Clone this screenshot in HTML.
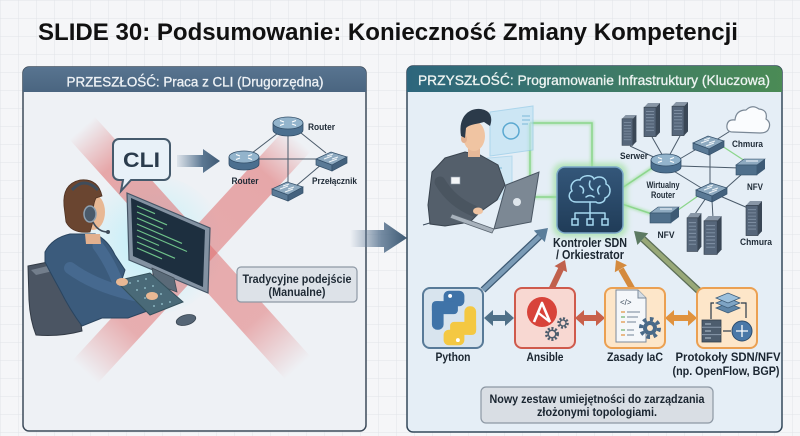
<!DOCTYPE html>
<html><head><meta charset="utf-8"><style>
html,body{margin:0;padding:0;width:800px;height:436px;overflow:hidden;background:#f5f6f8}
svg{display:block}
text{font-family:"Liberation Sans",Arial,sans-serif}
</style></head><body>
<svg width="800" height="436" viewBox="0 0 800 436" xmlns="http://www.w3.org/2000/svg">
<defs>
<pattern id="grid" width="18" height="18" patternUnits="userSpaceOnUse"><path d="M18 0H0V18" fill="none" stroke="#e1e4e8" stroke-width="1"/></pattern>
<linearGradient id="hdrR" x1="0" x2="1" y1="0" y2="0"><stop offset="0" stop-color="#2d667d"/><stop offset="1" stop-color="#4b8b55"/></linearGradient>
<linearGradient id="hdrL" x1="0" x2="0" y1="0" y2="1"><stop offset="0" stop-color="#587490"/><stop offset="1" stop-color="#4a6580"/></linearGradient>
<linearGradient id="bigArrow" x1="350" x2="407" y1="0" y2="0" gradientUnits="userSpaceOnUse"><stop offset="0" stop-color="#6a84a0" stop-opacity="0"/><stop offset="0.55" stop-color="#5d7893" stop-opacity="0.85"/><stop offset="1" stop-color="#3d5872"/></linearGradient>
<linearGradient id="cliArrow" x1="176" x2="220" y1="0" y2="0" gradientUnits="userSpaceOnUse"><stop offset="0" stop-color="#6b86a0" stop-opacity="0.1"/><stop offset="0.6" stop-color="#5b7792"/><stop offset="1" stop-color="#3f5a74"/></linearGradient>
<linearGradient id="band1" gradientUnits="userSpaceOnUse" x1="82" y1="128" x2="298" y2="368"><stop offset="0" stop-color="#e06a6a" stop-opacity="0"/><stop offset="0.15" stop-color="#e06a6a" stop-opacity="0.55"/><stop offset="0.8" stop-color="#e06a6a" stop-opacity="0.5"/><stop offset="1" stop-color="#e06a6a" stop-opacity="0"/></linearGradient>
<linearGradient id="band2" gradientUnits="userSpaceOnUse" x1="298" y1="140" x2="85" y2="372"><stop offset="0" stop-color="#e06a6a" stop-opacity="0"/><stop offset="0.15" stop-color="#e06a6a" stop-opacity="0.55"/><stop offset="0.8" stop-color="#e06a6a" stop-opacity="0.5"/><stop offset="1" stop-color="#e06a6a" stop-opacity="0"/></linearGradient>
<radialGradient id="glowL" cx="150" cy="245" r="75" gradientUnits="userSpaceOnUse"><stop offset="0" stop-color="#b8f0fa" stop-opacity="0.9"/><stop offset="1" stop-color="#b8f0fa" stop-opacity="0"/></radialGradient>
<linearGradient id="ctrl" x1="0" y1="0" x2="0" y2="1"><stop offset="0" stop-color="#34577a"/><stop offset="1" stop-color="#203c58"/></linearGradient>
<filter id="blur3" x="-50%" y="-50%" width="200%" height="200%"><feGaussianBlur stdDeviation="3"/></filter>
<filter id="blur1" x="-50%" y="-50%" width="200%" height="200%"><feGaussianBlur stdDeviation="1.2"/></filter>
<g id="rtr"><path d="M-15,0 v7 a15,6 0 0 0 30,0 v-7 z" fill="#4b6f8f" stroke="#34506a" stroke-width="0.8"/><ellipse rx="15" ry="6" fill="#93b4cc" stroke="#34506a" stroke-width="0.8"/><path d="M-8,-2.5 l4,1.5 M8,-2.5 l-4,1.5 M-8,2.5 l4,-1.5 M8,2.5 l-4,-1.5" stroke="#fff" stroke-width="1.2"/></g>
<g id="sw"><path d="M-15,-1 L0,-8 L16,-3 L1,5 Z" fill="#8eaac0" stroke="#34506a" stroke-width="0.7"/><path d="M-15,-1 L1,5 L1,11 L-15,5 Z" fill="#5a7a96" stroke="#34506a" stroke-width="0.7"/><path d="M1,5 L16,-3 L16,3 L1,11 Z" fill="#44627e" stroke="#34506a" stroke-width="0.7"/><path d="M-7,-1 l8,-3 M-2,2 l8,-3 M-4,-4 l6,-2 M1,-1 l6,-2" stroke="#eef4f8" stroke-width="1"/></g>
<g id="srv"><path d="M0,4 L4,0 L16,0 L12,4 Z" fill="#8896a6"/><rect x="0" y="4" width="12" height="28" fill="#56667a" stroke="#333f4c" stroke-width="0.6"/><path d="M12,4 L16,0 L16,28 L12,32 Z" fill="#3a4756"/><path d="M2,8h8M2,11h8M2,14h8M2,17h8M2,20h8M2,23h8M2,26h8" stroke="#8192a6" stroke-width="0.8"/></g>
<g id="nfv"><path d="M-14,-3 L-6,-9 L15,-9 L7,-3 Z" fill="#8eaac0" stroke="#34506a" stroke-width="0.6"/><rect x="-14" y="-3" width="21" height="10" fill="#4f6f8b" stroke="#34506a" stroke-width="0.6"/><path d="M7,-3 L15,-9 L15,1 L7,7 Z" fill="#3d5a75"/><path d="M-4,-7 h12" stroke="#e6eef5" stroke-width="1.2"/></g>
</defs>

<rect width="800" height="436" fill="#f5f6f8"/>
<rect width="800" height="436" fill="url(#grid)"/>

<text x="38" y="40" font-size="24" font-weight="bold" fill="#111" textLength="700" lengthAdjust="spacingAndGlyphs">SLIDE 30: Podsumowanie: Konieczność Zmiany Kompetencji</text>

<!-- LEFT PANEL -->
<rect x="23" y="67" width="343" height="364" rx="6" fill="#eef1f5" stroke="#3d4b5a" stroke-width="1.5"/>
<path d="M23,92 V73 a6,6 0 0 1 6,-6 H360 a6,6 0 0 1 6,6 V92 Z" fill="url(#hdrL)"/>
<text x="195" y="86.5" font-size="14" fill="#eef2f6" stroke="#eef2f6" stroke-width="0.3" text-anchor="middle" textLength="257" lengthAdjust="spacingAndGlyphs">PRZESZŁOŚĆ: Praca z CLI (Drugorzędna)</text>

<!-- glow + red X -->
<ellipse cx="150" cy="245" rx="75" ry="70" fill="url(#glowL)"/>
<polygon points="94.6,116.6 310.6,356.6 285.4,379.4 69.4,139.4" fill="url(#band1)"/>
<polygon points="285.7,128.3 72.7,360.3 97.3,383.7 310.3,151.7" fill="url(#band2)"/>

<!-- left network -->
<g stroke="#4a5a6a" stroke-width="1">
<line x1="252" y1="153" x2="282" y2="130"/>
<line x1="259" y1="159" x2="318" y2="159"/>
<line x1="296" y1="129" x2="326" y2="153"/>
<line x1="288" y1="131" x2="288" y2="183"/>
<line x1="296" y1="186" x2="322" y2="164"/>
</g>
<use href="#rtr" x="288" y="123"/>
<use href="#rtr" x="244" y="157"/>
<use href="#sw" x="331" y="160"/>
<use href="#sw" x="287" y="190"/>
<g font-size="9" font-weight="bold" fill="#1e2a36">
<text x="308" y="130" textLength="27" lengthAdjust="spacingAndGlyphs">Router</text>
<text x="245" y="184" text-anchor="middle" textLength="27" lengthAdjust="spacingAndGlyphs">Router</text>
<text x="312" y="184" textLength="45" lengthAdjust="spacingAndGlyphs">Przełącznik</text>
</g>

<!-- CLI bubble + arrow -->
<path d="M119,139 H164 a6,6 0 0 1 6,6 V174 a6,6 0 0 1 -6,6 H131 L121,191 L123,180 H119 a6,6 0 0 1 -6,-6 V145 a6,6 0 0 1 6,-6 Z" fill="#e8f1f8" stroke="#455a6c" stroke-width="2"/>
<text x="123" y="167" font-size="21" font-weight="bold" fill="#2a3b4c" textLength="37" lengthAdjust="spacingAndGlyphs">CLI</text>
<path d="M177,155 H203 V149 L220,161 L203,173 V167 H177 Z" fill="url(#cliArrow)"/>

<!-- left person -->
<path d="M28,266 L63,259 Q71,261 73,272 L82,331 Q60,337 36,335 Q30,320 29,300 Z" fill="#4b5563" stroke="#333b46" stroke-width="1"/>
<path d="M31,270 L60,263 L66,268 L36,275 Z" fill="#737e8c"/>
<path d="M45,252 Q52,238 70,234 L95,234 Q108,240 115,255 L125,270 L118,292 L140,300 L150,310 L128,318 L102,318 L82,326 Q70,310 60,290 Q50,272 45,262 Z" fill="#3b5b7c" stroke="#2a4560" stroke-width="1"/>
<path d="M98,246 Q110,262 118,283" stroke="#46698f" stroke-width="11" fill="none" stroke-linecap="round"/>
<path d="M70,268 Q100,290 150,298" stroke="#46698f" stroke-width="12" fill="none" stroke-linecap="round"/>
<path d="M85,234 L100,234 L101,244 L86,244 Z" fill="#e2b08e"/>
<ellipse cx="93" cy="212" rx="12" ry="18" fill="#e8b894"/>
<path d="M64,206 Q62,184 80,180 Q98,178 102,196 L96,198 Q92,206 94,218 L90,232 Q72,234 66,222 Z" fill="#6a4530" stroke="#4e3222" stroke-width="0.8"/>
<path d="M72,190 Q84,176 98,190" stroke="#3f4c5a" stroke-width="3" fill="none"/>
<ellipse cx="90" cy="214" rx="6" ry="8" fill="#4a5a6a" stroke="#8ea0b0" stroke-width="1.5"/>
<path d="M93,222 Q98,232 108,232" stroke="#3f4c5a" stroke-width="1.6" fill="none"/>
<circle cx="108" cy="232" r="2" fill="#3f4c5a"/>
<!-- monitor -->
<polygon points="127,193 210,228 208,293 129,260" fill="#8392a2" stroke="#445566" stroke-width="1.2"/>
<polygon points="131,198 205,230 203,287 133,256" fill="#1d2f3f"/>
<g stroke="#6fc28a" stroke-width="1.2">
<line x1="137" y1="206" x2="155" y2="213.7"/>
<line x1="137" y1="212" x2="167" y2="224.9"/>
<line x1="137" y1="218" x2="163" y2="229.2"/>
<line x1="137" y1="224" x2="182" y2="243.4"/>
<line x1="137" y1="230" x2="187" y2="251.5"/>
<line x1="137" y1="236" x2="159" y2="245.5"/>
<line x1="137" y1="242" x2="175" y2="258.3"/>
<line x1="137" y1="248" x2="162" y2="258.8"/>
</g>
<polygon points="152,268 174,278 177,292 155,284" fill="#5a6a78" stroke="#3e4a56" stroke-width="0.8"/>
<!-- keyboard -->
<polygon points="116,281 150,273 183,302 150,315" fill="#4a6a78" stroke="#34505c" stroke-width="1"/>
<g fill="#8ab4c0">
<circle cx="130" cy="283" r="1"/><circle cx="138" cy="281" r="1"/><circle cx="146" cy="279" r="1"/>
<circle cx="137" cy="290" r="1"/><circle cx="145" cy="288" r="1"/><circle cx="153" cy="286" r="1"/>
<circle cx="145" cy="298" r="1"/><circle cx="153" cy="296" r="1"/><circle cx="161" cy="294" r="1"/>
<circle cx="154" cy="306" r="1"/><circle cx="162" cy="304" r="1"/><circle cx="170" cy="302" r="1"/>
</g>
<ellipse cx="122" cy="282" rx="6" ry="4" fill="#e8b894"/>
<ellipse cx="152" cy="296" rx="6" ry="4" fill="#e8b894"/>
<ellipse cx="186" cy="320" rx="10" ry="5" transform="rotate(-15 186 320)" fill="#556575" stroke="#3a4652" stroke-width="0.8"/>

<!-- Tradycyjne box -->
<rect x="237" y="267" width="120" height="35" rx="4" fill="#dde2e8" stroke="#8e99a5" stroke-width="1.2"/>
<text x="297" y="283" font-size="12" font-weight="bold" fill="#1f2a35" text-anchor="middle" textLength="109" lengthAdjust="spacingAndGlyphs">Tradycyjne podejście</text>
<text x="297" y="296" font-size="12" font-weight="bold" fill="#1f2a35" text-anchor="middle" textLength="57" lengthAdjust="spacingAndGlyphs">(Manualne)</text>

<!-- big arrow -->
<path d="M350,230 H384 V222 L407,238 L384,253 V247 H350 Z" fill="url(#bigArrow)"/>

<!-- RIGHT PANEL -->
<rect x="407" y="66" width="375" height="366" rx="6" fill="#e5eef6" stroke="#34485a" stroke-width="1.5"/>
<path d="M407,92 V72 a6,6 0 0 1 6,-6 H776 a6,6 0 0 1 6,6 V92 Z" fill="url(#hdrR)"/>
<text x="594" y="85" font-size="14" fill="#eef4f2" stroke="#eef4f2" stroke-width="0.3" text-anchor="middle" textLength="352" lengthAdjust="spacingAndGlyphs">PRZYSZŁOŚĆ: Programowanie Infrastruktury (Kluczowa)</text>

<!-- green links -->
<g stroke="#9fe09f" stroke-width="4" fill="none" opacity="0.6" filter="url(#blur1)">
<path d="M530,123 H592 V167"/><path d="M530,123 V197 H557"/>
<path d="M622,188 L655,166"/><path d="M622,204 L652,214"/>
</g>
<g stroke="#8cd68c" stroke-width="1.5" fill="none">
<path d="M530,123 H592 V167"/><path d="M530,123 V197 H557"/>
<path d="M622,188 L655,166"/><path d="M622,204 L652,214"/>
</g>

<!-- right network lines -->
<g stroke="#4a5a6a" stroke-width="1" fill="none">
<line x1="660" y1="160" x2="630" y2="146"/>
<line x1="664" y1="158" x2="652" y2="137"/>
<line x1="668" y1="158" x2="680" y2="136"/>
<line x1="678" y1="160" x2="700" y2="147"/>
<line x1="680" y1="166" x2="740" y2="168"/>
<line x1="672" y1="170" x2="703" y2="189"/>
<line x1="716" y1="140" x2="735" y2="128"/>
<line x1="710" y1="150" x2="710" y2="186"/>
<line x1="724" y1="190" x2="742" y2="174"/>
<line x1="706" y1="198" x2="695" y2="214"/>
<line x1="712" y1="200" x2="713" y2="218"/>
<line x1="720" y1="196" x2="748" y2="208"/>
</g>
<g stroke="#8cd68c" stroke-width="1.3"><line x1="722" y1="146" x2="745" y2="161"/><line x1="698" y1="196" x2="678" y2="210"/></g>
<use href="#srv" transform="translate(622,115) scale(0.9,0.95)"/>
<use href="#srv" transform="translate(644,103) scale(1,1.05)"/>
<use href="#srv" transform="translate(672,102) scale(1,1.05)"/>
<use href="#srv" transform="translate(746,201) scale(1,1.08)"/>
<path d="M733,132 Q726,132 727,125 Q728,119 735,120 Q736,110 746,110 Q752,104 759,109 Q768,110 766,119 Q772,123 768,130 Q766,133 760,133 Z" fill="#fafcfe" stroke="#7a8896" stroke-width="1.2"/>
<use href="#rtr" x="666" y="160"/>
<use href="#sw" x="708" y="144"/>
<use href="#sw" x="711" y="191"/>
<use href="#nfv" x="750" y="168"/>
<use href="#nfv" x="664" y="216"/>
<use href="#srv" transform="translate(687,213) scale(0.9,1.2)"/>
<use href="#srv" transform="translate(704,216) scale(1.1,1.2)"/>
<g font-size="9.5" font-weight="bold" fill="#1e2a36">
<text x="620" y="159" textLength="28" lengthAdjust="spacingAndGlyphs">Serwer</text>
<text x="732" y="147" textLength="31" lengthAdjust="spacingAndGlyphs">Chmura</text>
<text x="663" y="188" text-anchor="middle" textLength="33" lengthAdjust="spacingAndGlyphs">Wirtualny</text>
<text x="663" y="198" text-anchor="middle" textLength="24" lengthAdjust="spacingAndGlyphs">Router</text>
<text x="755" y="190" text-anchor="middle" textLength="16" lengthAdjust="spacingAndGlyphs">NFV</text>
<text x="666" y="238" text-anchor="middle" textLength="17" lengthAdjust="spacingAndGlyphs">NFV</text>
<text x="756" y="245" text-anchor="middle" textLength="32" lengthAdjust="spacingAndGlyphs">Chmura</text>
</g>

<!-- right person -->
<polygon points="490,112 533,106 533,150 490,156" fill="#bfe2f4" opacity="0.65" stroke="#8ec8e6" stroke-width="1"/>
<circle cx="511" cy="131" r="8" fill="none" stroke="#5aa8d0" stroke-width="1.5"/>
<path d="M522,116 h8 M522,120 h8 M522,124 h6" stroke="#7ab8d8" stroke-width="1"/>
<polygon points="466,160 512,156 512,198 466,202" fill="#bfe2f4" opacity="0.55" stroke="#8ec8e6" stroke-width="1"/>
<path d="M472,168 h30 M472,174 h24 M472,180 h28" stroke="#7ab8d8" stroke-width="1"/>
<line x1="423" y1="225" x2="470" y2="211" stroke="#3a4a5a" stroke-width="1"/>
<polygon points="428,205 432,172 445,158 465,152 480,155 498,165 505,185 497,200 480,212 470,222 445,226 430,224" fill="#545f6b" stroke="#3a444f" stroke-width="1"/>
<path d="M440,182 Q452,202 474,211" stroke="#4a5560" stroke-width="11" fill="none" stroke-linecap="round"/>
<rect x="451" y="177" width="9" height="7" fill="#f4f6f8" stroke="#8a96a2" stroke-width="0.6"/>
<rect x="468" y="146" width="12" height="11" fill="#e6b898"/>
<ellipse cx="474" cy="136" rx="11" ry="15" fill="#f0c4a2"/>
<ellipse cx="464" cy="139" rx="3" ry="4" fill="#e2b090"/>
<path d="M461,136 C458,118 468,108 480,109 C491,110 493,118 490,126 L484,122 C478,124 470,124 466,128 L465,138 Z" fill="#2b3a4a"/>
<ellipse cx="478" cy="211" rx="5" ry="3.5" fill="#f0c4a2"/>
<polygon points="506,185 539,172 531,222 494,229" fill="#7c8894" stroke="#4a5663" stroke-width="1"/>
<circle cx="517" cy="202" r="4" fill="#dfe6ec"/>
<polygon points="452,214 494,229 492,233 450,218" fill="#a8b2bc" stroke="#5a6570" stroke-width="0.8"/>

<!-- controller -->
<rect x="553" y="163" width="74" height="74" rx="10" fill="#9fe09f" opacity="0.7" filter="url(#blur3)"/>
<rect x="557" y="167" width="66" height="66" rx="8" fill="url(#ctrl)" stroke="#7aa6c8" stroke-width="1.5"/>
<g stroke="#a5d8f0" stroke-width="1.5" fill="none" stroke-linecap="round">
<path d="M576,202 C569,202 567,194 572,191 C569,185 574,179 580,180 C582,175 592,174 594,179 C598,175 607,177 606,184 C612,187 611,196 605,198 C605,203 598,204 596,202 Z"/>
<path d="M580,186 q5,2 3,7 M590,181 q-2,6 3,9 M600,186 q-4,3 -1,8 M586,197 q4,-3 8,0"/>
<path d="M590,202 V213 M575,213 H605 M575,213 V219 M590,213 V219 M605,213 V219"/>
<rect x="572" y="219" width="6" height="6"/><rect x="587" y="219" width="6" height="6"/><rect x="602" y="219" width="6" height="6"/>
</g>
<text x="590" y="247" font-size="13" font-weight="bold" fill="#1a2530" text-anchor="middle" textLength="74" lengthAdjust="spacingAndGlyphs">Kontroler SDN</text>
<text x="590" y="259" font-size="13" font-weight="bold" fill="#1a2530" text-anchor="middle" textLength="68" lengthAdjust="spacingAndGlyphs">/ Orkiestrator</text>

<!-- arrows to controller -->
<g stroke-linecap="butt">
<line x1="483" y1="290" x2="540" y2="236" stroke="#3e5a74" stroke-width="7"/>
<line x1="483" y1="290" x2="540" y2="236" stroke="#7b9bb6" stroke-width="4.5"/>
<polygon points="548,228 544.8,242.1 533.8,230.5" fill="#5a7d9a"/>
<line x1="551" y1="290" x2="561" y2="269" stroke="#c0604c" stroke-width="6"/>
<polygon points="565,260 567.1,272.1 554.5,266.1" fill="#c0604c"/>
<line x1="633" y1="290" x2="621" y2="269" stroke="#d48a3e" stroke-width="6"/>
<polygon points="616,260 627,265.3 614.8,272.2" fill="#d48a3e"/>
<line x1="700" y1="292" x2="643" y2="239" stroke="#5c6e58" stroke-width="7"/>
<line x1="700" y1="292" x2="643" y2="239" stroke="#98a878" stroke-width="4.5"/>
<polygon points="634,231 648.2,233.2 637.4,245" fill="#5c7a62"/>
</g>

<!-- double arrows -->
<polygon points="484,318 493,310 493,315 505,315 505,310 514,318 505,326 505,321 493,321 493,326" fill="#4f7088"/>
<polygon points="575,318 584,310 584,315 596,315 596,310 605,318 596,326 596,321 584,321 584,326" fill="#c8604a"/>
<polygon points="665,318 674,310 674,315 688,315 688,310 697,318 688,326 688,321 674,321 674,326" fill="#e0923e"/>

<!-- boxes -->
<rect x="423" y="288" width="60" height="60" rx="7" fill="#d8e4ee" stroke="#587a98" stroke-width="2"/>
<rect x="515" y="288" width="60" height="60" rx="7" fill="#f8d8d2" stroke="#cf5a4c" stroke-width="2"/>
<rect x="605" y="288" width="60" height="60" rx="7" fill="#fde6c9" stroke="#eba052" stroke-width="2"/>
<rect x="697" y="288" width="60" height="60" rx="7" fill="#fde6c9" stroke="#eba052" stroke-width="2"/>

<!-- python logo -->
<g transform="translate(454,318) scale(1.3) translate(-453,-318)">
<rect x="445" y="297" width="16" height="12" rx="4" fill="#3f73a8"/>
<rect x="436" y="305" width="20" height="10" rx="3" fill="#3f73a8"/>
<rect x="436" y="305" width="9" height="22" rx="4" fill="#3f73a8"/>
<rect x="445" y="327" width="16" height="12" rx="4" fill="#f4c842"/>
<rect x="450" y="321" width="20" height="10" rx="3" fill="#f4c842"/>
<rect x="461" y="309" width="9" height="22" rx="4" fill="#f4c842"/>
<circle cx="450" cy="301" r="1.5" fill="#fff"/>
<circle cx="456" cy="335" r="1.5" fill="#fff"/>
</g>

<!-- ansible -->
<circle cx="542" cy="312" r="15" fill="#d8433a"/>
<polyline points="534,322 542,303 550,322" fill="none" stroke="#fff" stroke-width="2.6" stroke-linejoin="round"/>
<line x1="538.5" y1="313" x2="550" y2="322" stroke="#fff" stroke-width="2.2"/>
<circle cx="552" cy="334" r="5.5" fill="none" stroke="#4d5d6d" stroke-width="3" stroke-dasharray="2 1.6"/>
<circle cx="552" cy="334" r="3.8" fill="none" stroke="#4d5d6d" stroke-width="1.5"/>
<circle cx="563" cy="323" r="4.5" fill="none" stroke="#4d5d6d" stroke-width="2.6" stroke-dasharray="2 1.5"/>
<circle cx="563" cy="323" r="3" fill="none" stroke="#4d5d6d" stroke-width="1.3"/>

<!-- IaC -->
<path d="M616,290 H638 L646,298 V342 H616 Z" fill="#f4f7fa" stroke="#7b8a9a" stroke-width="1"/>
<path d="M638,290 V298 H646" fill="#d5dde5" stroke="#7b8a9a" stroke-width="1"/>
<text x="620" y="305" font-size="8" fill="#3a4a5a">&lt;/&gt;</text>
<g stroke-width="1.2">
<line x1="621" y1="312" x2="625" y2="312" stroke="#e0923e"/><line x1="627" y1="312" x2="640" y2="312" stroke="#8a98a8"/>
<line x1="621" y1="317" x2="625" y2="317" stroke="#6ab06a"/><line x1="627" y1="317" x2="638" y2="317" stroke="#8a98a8"/>
<line x1="621" y1="322" x2="625" y2="322" stroke="#e0923e"/><line x1="627" y1="322" x2="636" y2="322" stroke="#8a98a8"/>
<line x1="621" y1="330" x2="625" y2="330" stroke="#6ab06a"/><line x1="627" y1="330" x2="634" y2="330" stroke="#8a98a8"/>
<line x1="621" y1="335" x2="625" y2="335" stroke="#e0923e"/><line x1="627" y1="335" x2="634" y2="335" stroke="#8a98a8"/>
</g>
<circle cx="650" cy="328" r="9" fill="none" stroke="#4a6a88" stroke-width="4" stroke-dasharray="3.5 3.5"/>
<circle cx="650" cy="328" r="7" fill="#4a6a88"/>
<circle cx="650" cy="328" r="3" fill="#fde6c9"/>

<!-- Protokoly icon -->
<path d="M716,308 L728,303 L740,308 L728,313 Z" fill="#5f86a8" stroke="#3d5c78" stroke-width="0.8"/>
<path d="M716,303 L728,298 L740,303 L728,308 Z" fill="#7ea4c4" stroke="#3d5c78" stroke-width="0.8"/>
<path d="M716,298 L728,293 L740,298 L728,303 Z" fill="#9cc0dc" stroke="#3d5c78" stroke-width="0.8"/>
<rect x="702" y="320" width="19" height="22" fill="#4d5d6e" stroke="#33404d" stroke-width="0.8"/>
<path d="M702,327.3 h19 M702,334.6 h19" stroke="#8a9aac" stroke-width="1"/>
<path d="M705,324 h6 M705,331 h6 M705,338 h6" stroke="#b8c6d4" stroke-width="1"/>
<circle cx="742" cy="331" r="10" fill="#4a78a8" stroke="#2d4d6e" stroke-width="1"/>
<path d="M736,331 h12 M742,325 v12" stroke="#fff" stroke-width="1.3"/>
<path d="M711,319 V303 H714" fill="none" stroke="#2a3a4a" stroke-width="1.2"/>
<path d="M741,303 H746 V318" fill="none" stroke="#2a3a4a" stroke-width="1.2"/>
<path d="M731,331 H723" fill="none" stroke="#2a3a4a" stroke-width="1.2"/>

<!-- labels -->
<g font-size="11.5" font-weight="bold" fill="#1a2530" text-anchor="middle">
<text x="453" y="361" textLength="35" lengthAdjust="spacingAndGlyphs">Python</text>
<text x="545" y="361" textLength="37" lengthAdjust="spacingAndGlyphs">Ansible</text>
<text x="635" y="361" textLength="56" lengthAdjust="spacingAndGlyphs">Zasady IaC</text>
<text x="728" y="361" textLength="105" lengthAdjust="spacingAndGlyphs">Protokoły SDN/NFV</text>
<text x="726" y="375" textLength="107" lengthAdjust="spacingAndGlyphs">(np. OpenFlow, BGP)</text>
</g>

<rect x="481" y="387" width="232" height="36" rx="5" fill="#d9dee4" stroke="#8d98a4" stroke-width="1.2"/>
<text x="597" y="403" font-size="12" font-weight="bold" fill="#1a2530" text-anchor="middle" textLength="215" lengthAdjust="spacingAndGlyphs">Nowy zestaw umiejętności do zarządzania</text>
<text x="597" y="416" font-size="12" font-weight="bold" fill="#1a2530" text-anchor="middle" textLength="120" lengthAdjust="spacingAndGlyphs">złożonymi topologiami.</text>
</svg>
</body></html>
